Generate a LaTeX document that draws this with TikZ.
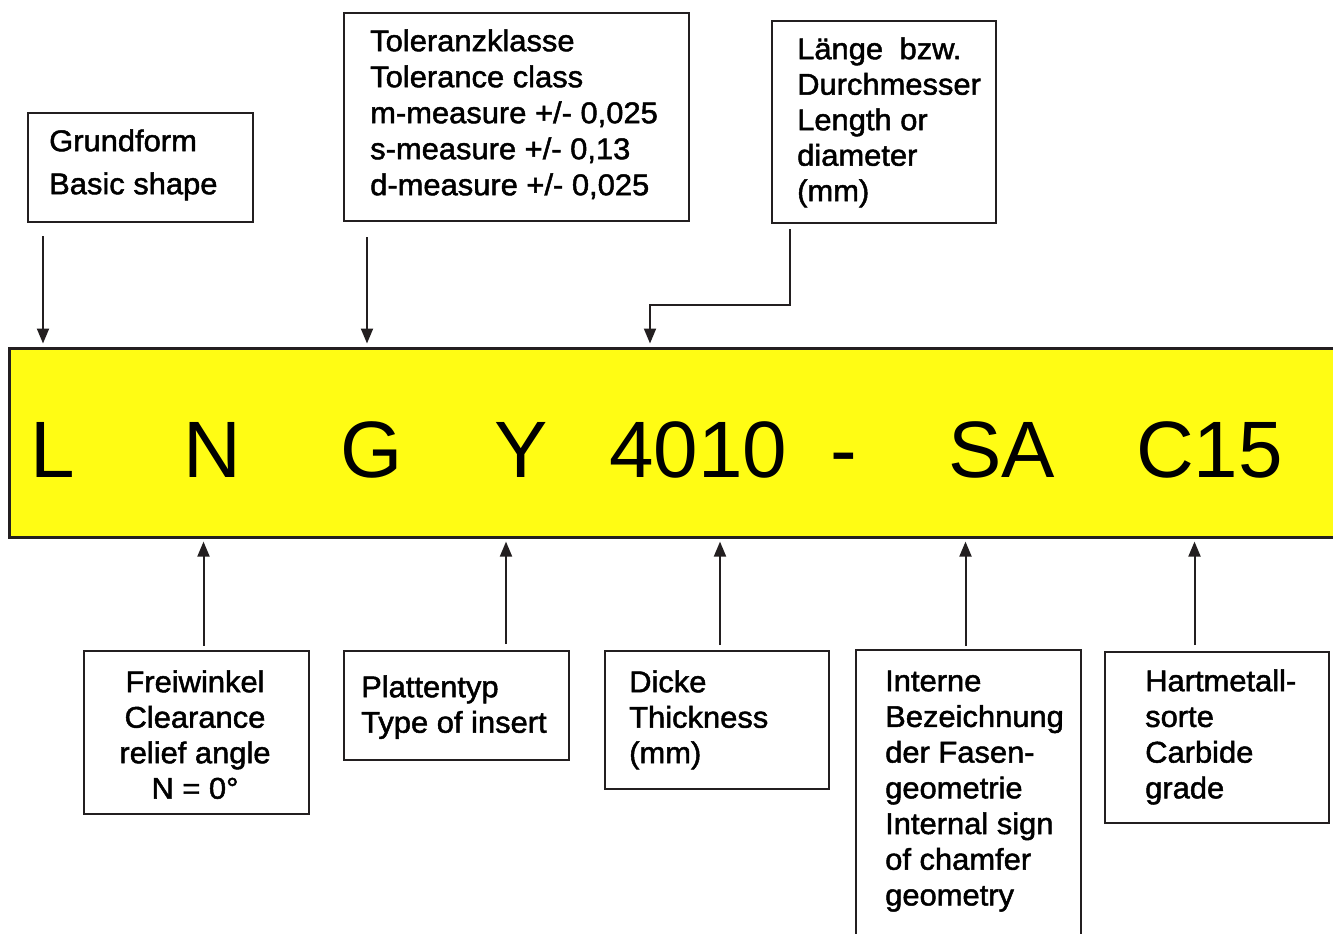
\documentclass[tikz,border=0pt]{standalone}
\usepackage{fontspec}
\usetikzlibrary{arrows.meta}
\newfontfamily\boxfont[FakeStretch=1.03,FakeBold=1.6]{Liberation Sans}
\newfontfamily\bigfont{Liberation Sans}
\definecolor{ink}{RGB}{35,31,32}
\definecolor{codeyellow}{RGB}{255,252,20}
\newcommand{\firstrule}{\rule{0pt}{28pt}}
\tikzset{
  frame/.style={draw=ink, line width=2pt, inner sep=0pt, anchor=north west},
  codebox/.style={draw=ink, fill=codeyellow, line width=2.6pt, inner sep=0pt, anchor=north west},
  lbl/.style={inner sep=0pt, anchor=north west, align=left, text=black},
  biglbl/.style={inner sep=0pt, anchor=base west, text=black, font={\bigfont\fontsize{80}{90}\selectfont}},
  arr/.style={draw=ink, line width=2pt, -{Triangle[length=15pt,width=12pt]}},
}
\begin{document}
\begin{tikzpicture}[x=1pt,y=-1pt]
\useasboundingbox (0,0) rectangle (1333,934);
\clip (0,0) rectangle (1333,934);

% yellow code bar
\node[codebox, minimum width=1400pt, minimum height=189pt] (code) at (8,347) {};
\node[biglbl] (cL) at (30,477) {L};
\node[biglbl] (cN) at (183,477) {N};
\node[biglbl] (cG) at (340,477) {G};
\node[biglbl] (cY) at (494,477) {Y};
\node[biglbl] (c4010) at (609,477) {4010};
\node[biglbl] (cdash) at (830,477) {-};
\node[biglbl] (cSA) at (948,477) {SA};
\node[biglbl] (cC15) at (1136,477) {C15};

% upper boxes
\node[frame, minimum width=225pt, minimum height=109pt] (bGrund) at (27,112) {};
\node[lbl, font={\boxfont\fontsize{30}{43}\selectfont}] (tGrund) at (49,123)
  {\firstrule Grundform\\Basic shape};

\node[frame, minimum width=344.5pt, minimum height=208pt] (bTol) at (343,12) {};
\node[lbl, font={\boxfont\fontsize{30}{36}\selectfont}] (tTol) at (370,23)
  {\firstrule Toleranzklasse\\Tolerance class\\m-measure +/- 0,025\\s-measure +/- 0,13\\d-measure +/- 0,025};

\node[frame, minimum width=224.5pt, minimum height=201.5pt] (bLen) at (770.5,20) {};
\node[lbl, font={\boxfont\fontsize{30}{35.5}\selectfont}] (tLen) at (797,31)
  {\firstrule Länge\hspace{0.55em}bzw.\\Durchmesser\\Length or\\diameter\\(mm)};

% lower boxes
\node[frame, minimum width=225pt, minimum height=163pt] (bFrei) at (83,650) {};
\node[lbl, anchor=north, align=center, font={\boxfont\fontsize{30}{35.5}\selectfont}] (tFrei) at (195,664)
  {\firstrule Freiwinkel\\Clearance\\relief angle\\N = 0°};

\node[frame, minimum width=225pt, minimum height=109pt] (bPlat) at (343,650) {};
\node[lbl, font={\boxfont\fontsize{30}{35.5}\selectfont}] (tPlat) at (361,669)
  {\firstrule Plattentyp\\Type of insert};

\node[frame, minimum width=224pt, minimum height=138pt] (bDick) at (603.5,650) {};
\node[lbl, font={\boxfont\fontsize{30}{35.5}\selectfont}] (tDick) at (629,664)
  {\firstrule Dicke\\Thickness\\(mm)};

\node[frame, minimum width=224.5pt, minimum height=320pt] (bInt) at (855,649) {};
\node[lbl, font={\boxfont\fontsize{30}{35.7}\selectfont}] (tInt) at (885,663)
  {\firstrule Interne\\Bezeichnung\\der Fasen-\\geometrie\\Internal sign\\of chamfer\\geometry};

\node[frame, minimum width=224.5pt, minimum height=171pt] (bHart) at (1103.5,650.5) {};
\node[lbl, font={\boxfont\fontsize{30}{35.7}\selectfont}] (tHart) at (1145,663)
  {\firstrule Hartmetall-\\sorte\\Carbide\\grade};

% connectors, top
\coordinate (sGrund) at (43,236);
\coordinate (sTol) at (367,237);
\coordinate (sLen) at (790,229);
\coordinate (kLen) at (650,305);
\draw[arr, shorten >=3.5pt] (sGrund) -- (sGrund |- code.north);
\draw[arr, shorten >=3.5pt] (sTol) -- (sTol |- code.north);
\draw[arr, shorten >=3.5pt] (sLen) |- (kLen) -- (kLen |- code.north);

% connectors, bottom
\coordinate (sFrei) at (203.5,645.5);
\coordinate (sPlat) at (506,644);
\coordinate (sDick) at (720,645);
\coordinate (sInt) at (965.5,646);
\coordinate (sHart) at (1194.5,645);
\foreach \s in {sFrei,sPlat,sDick,sInt,sHart}
  \draw[arr, shorten >=3pt] (\s) -- (\s |- code.south);
\end{tikzpicture}
\end{document}
